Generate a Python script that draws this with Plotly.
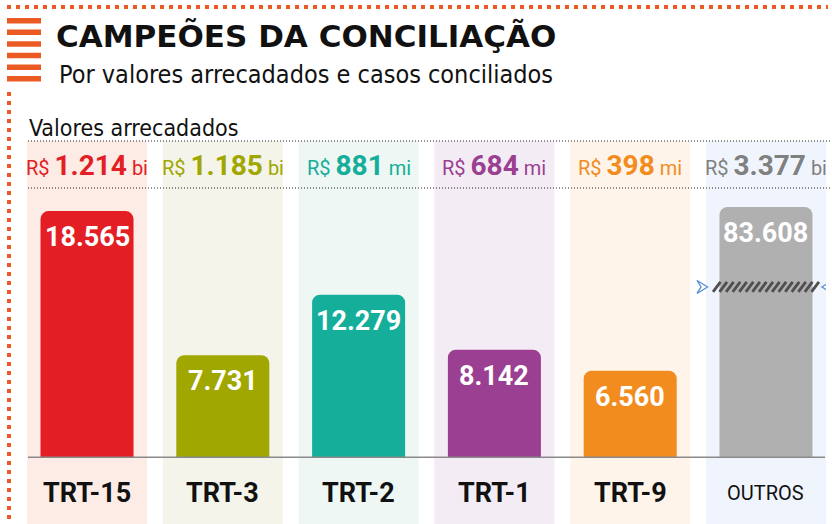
import plotly.graph_objects as go

# ---------------- data ----------------
categories = ["TRT-15", "TRT-3", "TRT-2", "TRT-1", "TRT-9", "OUTROS"]
cases = [18565, 7731, 12279, 8142, 6560, 83608]          # casos conciliados
amount_num = ["1.214", "1.185", "881", "684", "398", "3.377"]
amount_unit = ["bi", "bi", "mi", "mi", "mi", "bi"]
broken = [False, False, False, False, False, True]      # bar drawn with axis break
break_cap = 18.87       # displayed height (thousands) of the broken bar
break_at = 12.86        # position of the break mark (thousands)

bar_colors = ["#e31e24", "#a0a700", "#14ae9a", "#9a3f91", "#f28c1e", "#b0b0b0"]
text_colors = ["#e31e24", "#a0a700", "#14ae9a", "#9a3f91", "#f28c1e", "#808080"]
bg_colors = ["#fcece5", "#f4f4ea", "#eef7f3", "#f4ecf5", "#fff4ea", "#f0f5fd"]

# ---------------- layout geometry ----------------
W, H = 832, 524
L, R, T, B = 27, 6, 141, 66
PW, PH = W - L - R, H - T - B
YMAX = 23.83
HALF = 0.442

COND = "DejaVu Sans Condensed, Roboto, sans-serif"
ROBO = "Roboto, Liberation Sans, Arial, sans-serif"
TITLE = "DejaVu Sans, Verdana, sans-serif"

def px_x(px):
    return (px - L) / PW

def px_y(py):
    return (H - B - py) / PH

disp = [break_cap if b else c / 1000 for c, b in zip(cases, broken)]
fmt = [f"{c:,}".replace(",", ".") for c in cases]
xs = list(range(len(categories)))

fig = go.Figure()
fig.add_trace(go.Bar(
    x=xs, y=disp, width=0.685,
    marker=dict(color=bar_colors, line=dict(width=0)),
    hoverinfo="skip", showlegend=False,
))

shapes = []
ann = []

# background columns
for i, c in enumerate(bg_colors):
    shapes.append(dict(type="rect", xref="x", yref="paper", x0=i - HALF, x1=i + HALF,
                       y0=px_y(H + 2), y1=1, fillcolor=c, line=dict(width=0), layer="below"))

# baseline
shapes.append(dict(type="line", xref="paper", yref="y", x0=px_x(28), x1=px_x(825), y0=0, y1=0,
                   line=dict(color="#8a8a8a", width=3)))

# dotted separators
for py in (141, 188):
    shapes.append(dict(type="line", xref="paper", yref="paper", x0=px_x(28), x1=px_x(832),
                       y0=px_y(py), y1=px_y(py), line=dict(color="#222", width=1.2, dash="1px,2px")))

# orange dotted frame
shapes.append(dict(type="line", xref="paper", yref="paper", x0=px_x(7), x1=px_x(828),
                   y0=px_y(7), y1=px_y(7), line=dict(color="#ec5a24", width=4, dash="4px,5px")))
shapes.append(dict(type="line", xref="paper", yref="paper", x0=px_x(9), x1=px_x(9),
                   y0=px_y(92), y1=px_y(526), line=dict(color="#ec5a24", width=4, dash="4px,5px")))
# orange stripes
for k in range(6):
    top = 18 + k * 11.6
    shapes.append(dict(type="rect", xref="paper", yref="paper", x0=px_x(7), x1=px_x(41),
                       y0=px_y(top + 5.5), y1=px_y(top), fillcolor="#ec5a24", line=dict(width=0)))

# axis break mark on broken bars
uy = YMAX / PH
for i, b in enumerate(broken):
    if not b:
        continue
    x_l, x_r = i - 0.39, i + 0.39
    band = 10 * uy
    y0, y1 = break_at - band / 2, break_at + band / 2
    n = 15
    step = (x_r - x_l - 0.055) / n
    for k in range(n + 1):
        xa = x_l + k * step
        shapes.append(dict(type="line", xref="x", yref="y", x0=xa, x1=xa + 0.055, y0=y0, y1=y1,
                           line=dict(color="#4f4f4f", width=2.8)))
    path_l = (f"M {i-0.508},{break_at+6.5*uy} L {i-0.43},{break_at} L {i-0.508},{break_at-6.5*uy} "
              f"L {i-0.478},{break_at} Z")
    path_r = (f"M {i+0.49},{break_at+6.5*uy} L {i+0.412},{break_at} L {i+0.49},{break_at-6.5*uy} "
              f"L {i+0.46},{break_at} Z")
    for p in (path_l, path_r):
        shapes.append(dict(type="path", xref="x", yref="y", path=p, fillcolor="white",
                           line=dict(color="#5b8fd6", width=1.3)))

# value labels inside bars
for i in xs:
    ann.append(dict(x=i, y=disp[i], xref="x", yref="y", text=f"<b>{fmt[i]}</b>",
                    showarrow=False, yanchor="middle", yshift=-26,
                    font=dict(family=ROBO, size=27, color="white")))

# header amounts
for i in xs:
    txt = (f"R$ <b><span style='font-size:28px'>{amount_num[i]}</span></b> {amount_unit[i]}")
    ann.append(dict(x=i, y=px_y(165), xref="x", yref="paper", text=txt, showarrow=False,
                    yanchor="middle", font=dict(family=ROBO, size=20, color=text_colors[i])))

# category labels
for i, c in enumerate(categories):
    if broken[i]:
        ann.append(dict(x=i, y=px_y(493), xref="x", yref="paper", text=c, showarrow=False,
                        yanchor="middle", font=dict(family=ROBO, size=20, color="#111")))
    else:
        ann.append(dict(x=i, y=px_y(493), xref="x", yref="paper", text=f"<b>{c}</b>",
                        showarrow=False, yanchor="middle",
                        font=dict(family=ROBO, size=27, color="#111")))

# titles
ann.append(dict(x=px_x(54), y=px_y(36), xref="paper", yref="paper", xanchor="left",
                yanchor="middle", showarrow=False, text="<b>CAMPEÕES DA CONCILIAÇÃO</b>",
                font=dict(family=TITLE, size=31, color="#111")))
ann.append(dict(x=px_x(57), y=px_y(74), xref="paper", yref="paper", xanchor="left",
                yanchor="middle", showarrow=False, text="Por valores arrecadados e casos conciliados",
                font=dict(family=COND, size=25, color="#111")))
ann.append(dict(x=px_x(27), y=px_y(128), xref="paper", yref="paper", xanchor="left",
                yanchor="middle", showarrow=False, text="Valores arrecadados",
                font=dict(family=COND, size=23, color="#111")))

fig.update_layout(
    width=W, height=H, margin=dict(l=L, r=R, t=T, b=B),
    paper_bgcolor="white", plot_bgcolor="rgba(0,0,0,0)",
    barcornerradius=8,
    xaxis=dict(range=[-HALF, len(categories) - 1 + HALF], visible=False, fixedrange=True),
    yaxis=dict(range=[0, YMAX], visible=False, fixedrange=True),
    shapes=shapes, annotations=ann,
)

fig.write_html("out.html")
